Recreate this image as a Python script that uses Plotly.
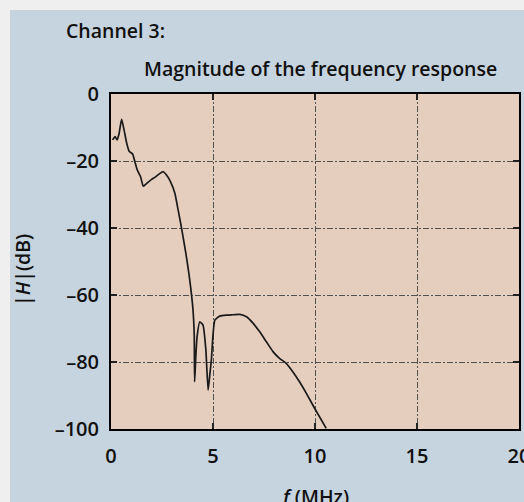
import plotly.graph_objects as go

freq_mhz = [0.08, 0.2, 0.3, 0.4, 0.52, 0.64, 0.77, 0.9, 1.06, 1.17, 1.29, 1.45, 1.58, 1.75, 1.99, 2.15,
            2.4, 2.56, 2.72, 2.92, 3.13, 3.29, 3.46, 3.67, 3.86, 4.02, 4.08, 4.1, 4.16, 4.22, 4.35,
            4.51, 4.65, 4.76, 4.84, 4.92, 5.0, 5.09, 5.33, 5.66, 6.0, 6.31, 6.64, 6.96, 7.29, 7.61,
            7.94, 8.26, 8.59, 8.91, 9.24, 9.57, 9.98, 10.55]
mag_db = [-13.7, -12.7, -13.7, -11.7, -7.6, -10.7, -14.7, -17.2, -17.9, -20.2, -22.7, -24.7, -27.5,
          -26.7, -25.5, -24.9, -23.7, -23.2, -24.2, -26.2, -29.6, -34.6, -40.1, -47.6, -55.5, -64.5,
          -72.0, -85.9, -78.0, -72.4, -68.0, -69.0, -76.4, -88.4, -84.0, -79.4, -72.0, -67.5, -66.3,
          -66.0, -65.9, -65.8, -66.5, -68.4, -71.0, -73.9, -76.9, -78.9, -80.4, -82.9, -85.9, -89.3,
          -93.8, -99.8]

x_ticks = [0, 5, 10, 15, 20]
x_ticklabels = ["0", "5", "10", "15", "20"]
y_ticks = [0, -20, -40, -60, -80, -100]
y_ticklabels = ["0", "–20", "–40", "–60", "–80", "–100"]

W, H = 524, 502
L, R, T, B = 111, 519, 94, 429
pw, ph = R - L, B - T

def px(x):
    return (x - L) / pw

def py(y):
    return (B - y) / ph

FONT = "Open Sans"
fcol = "#111111"
PANEL = "#c6d4df"
OUTER = "#efefef"

fig = go.Figure()
fig.add_trace(go.Scatter(x=freq_mhz, y=mag_db, mode="lines",
                         line=dict(color="#1a1a1a", width=1.7, shape="spline", smoothing=0.5),
                         hoverinfo="skip", showlegend=False))

axis_common = dict(showline=True, linecolor="#000000", linewidth=2, mirror="ticks",
                   ticks="inside", ticklen=6, tickwidth=2, tickcolor="#222222",
                   showgrid=True, gridcolor="#505050", gridwidth=1.4, griddash="6px,2px,2px,2px",
                   zeroline=False, ticklabeloverflow="allow", automargin=False,
                   tickfont=dict(family=FONT, size=20, color=fcol, weight=600))

fig.update_xaxes(range=[0, 20], tickvals=x_ticks, ticktext=x_ticklabels,
                 ticklabelstandoff=8, **axis_common)
fig.update_yaxes(range=[-100, 0], tickvals=y_ticks, ticktext=y_ticklabels,
                 ticklabelstandoff=6, **axis_common)

fig.update_layout(
    width=W, height=H,
    margin=dict(l=L, r=W - R, t=T, b=H - B, pad=0, autoexpand=False),
    paper_bgcolor=PANEL,
    plot_bgcolor="#e6cebf",
    shapes=[
        dict(type="rect", xref="paper", yref="paper", layer="below",
             x0=px(-5), x1=px(530), y0=py(10), y1=py(-5),
             fillcolor=OUTER, line=dict(width=0)),
        dict(type="rect", xref="paper", yref="paper", layer="below",
             x0=px(-5), x1=px(10), y0=py(510), y1=py(-5),
             fillcolor=OUTER, line=dict(width=0)),
    ],
    annotations=[
        dict(text="Channel 3:", xref="paper", yref="paper", x=px(64), y=py(30),
             xanchor="left", yanchor="middle", showarrow=False,
             font=dict(family=FONT, size=19.5, color=fcol, weight=600)),
        dict(text="Magnitude of the frequency response", xref="paper", yref="paper",
             x=px(320), y=py(68), xanchor="center", yanchor="middle", showarrow=False,
             font=dict(family=FONT, size=19.5, color=fcol, weight=600)),
        dict(text="<i>f</i> (MHz)", xref="paper", yref="paper", x=px(314), y=py(496),
             xanchor="center", yanchor="middle", showarrow=False,
             font=dict(family=FONT, size=19.5, color=fcol, weight=600)),
        dict(text="|<i>H</i>|(dB)", xref="paper", yref="paper", x=px(22), y=py(270),
             xanchor="center", yanchor="middle", showarrow=False, textangle=-90,
             font=dict(family=FONT, size=19.5, color=fcol, weight=600)),
    ],
)

fig.write_html("out.html")
